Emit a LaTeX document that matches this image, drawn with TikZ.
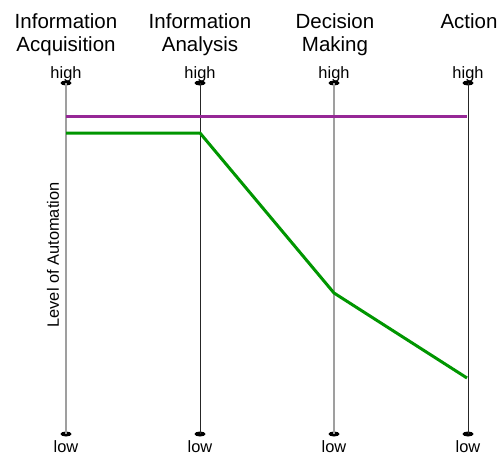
\documentclass[tikz,border=0pt]{standalone}
\usepackage{fontspec}
\setmainfont{Liberation Sans}
\usetikzlibrary{shapes.geometric}
\definecolor{autopurple}{RGB}{150,40,150}
\definecolor{autogreen}{RGB}{0,150,0}
\begin{document}
\begin{tikzpicture}[x=1pt,y=-1pt,
  title/.style={anchor=base, align=center, font=\fontsize{20.5}{24}\selectfont, inner sep=0pt},
  tick/.style={font=\fontsize{16.4}{19}\selectfont, inner sep=0pt},
  knob/.style={ellipse, fill=black, inner sep=0pt, minimum width=11pt, minimum height=5pt},
  axislight/.style={draw=gray!75, line width=1.3pt},
  axisdark/.style={draw=black!85, line width=0.8pt},
  levelline/.style={line width=3pt, line join=miter}]
\useasboundingbox (0,0) rectangle (499,455);

% stage headings (base anchor sits on the last line)
\node[title] (t1) at (66,52) {Information\\Acquisition};
\node[title] (t2) at (200,52) {Information\\Analysis};
\node[title] (t3) at (335,52) {Decision\\Making};
\node[title] (t4) at (469,28) {Action};

% scale ends of each axis
\foreach \i/\x in {1/66,2/200,3/334,4/468}{
  \node[knob] (h\i) at (\x,83) {};
  \node[knob] (l\i) at (\x,434) {};
  \node[tick, anchor=base] (hl\i) at (\x,78) {high};
  \node[tick, anchor=base] (ll\i) at (\x,452) {low};
}

% vertical axes
\draw[axislight] (h1.center) -- (l1.center);
\draw[axisdark]  (h2.center) -- (l2.center);
\draw[axislight] (h3.center) -- (l3.center);
\draw[axisdark]  (h4.center) -- (l4.center);

% axis title
\node[tick, rotate=90] (lvl) at (53,255) {Level of Automation};

% automation profiles
\coordinate (p1) at (66,116);
\coordinate (p2) at (467,116);
\draw[levelline, autopurple] (p1) -- (p2);

\coordinate (g1) at (66,133);
\coordinate (g2) at (200,133);
\coordinate (g3) at (334,293);
\coordinate (g4) at (467,378);
\draw[levelline, autogreen] (g1) -- (g2) -- (g3) -- (g4);
\end{tikzpicture}
\end{document}
